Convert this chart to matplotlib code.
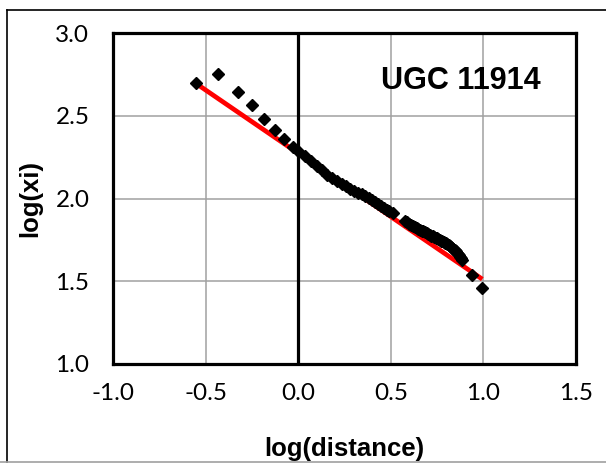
import numpy as np
import matplotlib
matplotlib.use("Agg")
import matplotlib.pyplot as plt
from matplotlib.lines import Line2D

# log(distance) and log(xi)
log_dist = [-0.552, -0.431, -0.327, -0.249, -0.186, -0.124, -0.075, -0.030,
            0.000, 0.035, 0.068, 0.100, 0.130, 0.158, 0.185, 0.210, 0.235, 0.258,
            0.281, 0.302, 0.322, 0.342, 0.361, 0.380, 0.398, 0.415, 0.431, 0.447,
            0.462, 0.477, 0.491, 0.514, 0.577, 0.588, 0.598, 0.609, 0.619, 0.629,
            0.639, 0.648, 0.658, 0.667, 0.676, 0.685, 0.693, 0.702, 0.710, 0.718,
            0.726, 0.734, 0.742, 0.749, 0.757, 0.764, 0.771, 0.778, 0.785, 0.792,
            0.799, 0.806, 0.812, 0.819, 0.825, 0.831, 0.838, 0.844, 0.850, 0.856,
            0.862, 0.867, 0.873, 0.879, 0.884, 0.937, 0.994]
log_xi = [2.696, 2.752, 2.645, 2.565, 2.480, 2.414, 2.360, 2.309,
          2.285, 2.255, 2.225, 2.197, 2.171, 2.145, 2.124, 2.106, 2.089, 2.074,
          2.060, 2.048, 2.036, 2.026, 2.015, 2.003, 1.991, 1.979, 1.968, 1.957,
          1.945, 1.933, 1.922, 1.910, 1.862, 1.855, 1.848, 1.841, 1.835, 1.829,
          1.823, 1.818, 1.812, 1.806, 1.801, 1.795, 1.790, 1.785, 1.780, 1.776,
          1.772, 1.768, 1.763, 1.759, 1.755, 1.751, 1.746, 1.742, 1.738, 1.734,
          1.730, 1.725, 1.720, 1.714, 1.708, 1.702, 1.695, 1.688, 1.681, 1.673,
          1.665, 1.657, 1.648, 1.639, 1.630, 1.538, 1.457]

# linear trendline
trend_slope = -0.765
trend_intercept = 2.273

x_ticks = [-1.0, -0.5, 0.0, 0.5, 1.0, 1.5]
y_ticks = [1.0, 1.5, 2.0, 2.5, 3.0]
title = "UGC 11914"

fig = plt.figure(figsize=(6.06, 4.63), dpi=100)
ax = fig.add_axes([113/606, 1-364/463, 463/606, 331/463])

# trendline over the data range
tx = np.array([min(log_dist), max(log_dist)])
ax.plot(tx, trend_slope*tx + trend_intercept, color="#ff0000", lw=3.4,
        solid_capstyle="butt", zorder=3)
ax.plot(log_dist, log_xi, ls="none", marker="D", ms=6.4, color="black", zorder=4)

ax.set_xlim(-1.0, 1.5)
ax.set_ylim(1.0, 3.0)
ax.set_xticks(x_ticks)
ax.set_yticks(y_ticks)
ax.set_xticklabels([f"{v:.1f}" for v in x_ticks])
ax.set_yticklabels([f"{v:.1f}" for v in y_ticks])
ax.grid(True, color="#a0a0a0", lw=1.1, zorder=0)
ax.axvline(0, color="black", lw=2.3, zorder=2)
ax.set_axisbelow(True)

for s in ax.spines.values():
    s.set_linewidth(2.3)
    s.set_color("black")
    s.set_zorder(5)

ax.tick_params(axis="y", length=0, labelsize=17.5, pad=17)
ax.tick_params(axis="x", length=0, labelsize=17.5, pad=14)
for lab in ax.get_xticklabels() + ax.get_yticklabels():
    lab.set_fontfamily("Lato")

ax.set_xlabel("log(distance)", fontsize=18.5, fontweight="bold", family="Liberation Sans")
ax.set_ylabel("log(xi)", fontsize=18.5, fontweight="bold", family="Liberation Sans")
ax.xaxis.set_label_coords(0.5, -0.222)
ax.yaxis.set_label_coords(-0.153, 0.5)

ax.text(0.579, 0.855, title, transform=ax.transAxes, ha="left", va="center",
        fontsize=22, fontweight="bold", family="Liberation Sans")

# outer chart frame
fig.add_artist(Line2D([6.5/606, 6.5/606], [1-10/463, 1-461.5/463], color="black", lw=1.2))
fig.add_artist(Line2D([6.5/606, 1.0], [1-10/463, 1-10/463], color="black", lw=1.2))
fig.add_artist(Line2D([0, 1.0], [1-461.5/463, 1-461.5/463], color="#a0a0a0", lw=1.2))

fig.savefig("out.png", dpi=100)
